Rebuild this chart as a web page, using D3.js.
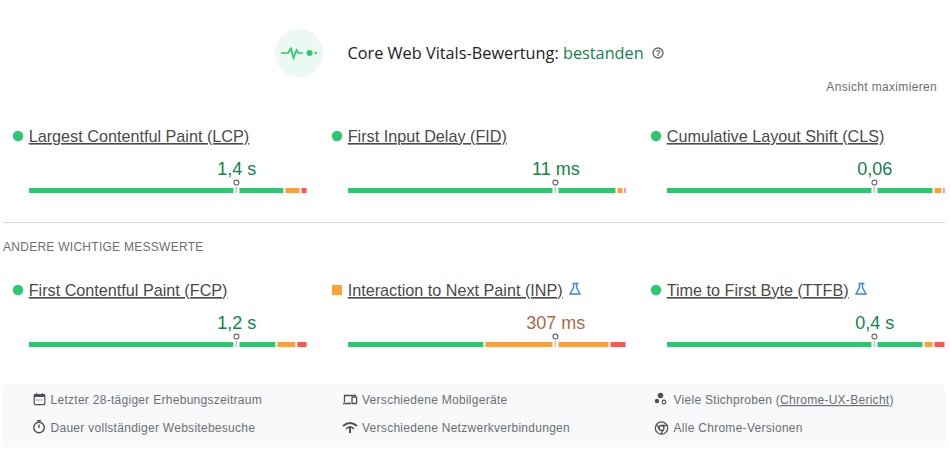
<!DOCTYPE html>
<html><head><meta charset="utf-8">
<script src="https://cdn.jsdelivr.net/npm/d3@7"></script>
<style>html,body{margin:0;padding:0;background:#fff}svg{display:block}text{font-family:"Liberation Sans",Arial,sans-serif}</style>
</head><body><div id="c"></div>
<script>
const metricNames=["Largest Contentful Paint (LCP)","First Input Delay (FID)","Cumulative Layout Shift (CLS)","First Contentful Paint (FCP)","Interaction to Next Paint (INP)","Time to First Byte (TTFB)"];
const valueLabels=["1,4 s","11 ms","0,06","1,2 s","307 ms","0,4 s"];
const goodShare=[92.4,97.1,96.4,89.5,49.5,92.8];
const needsShare=[5.8,2.5,3.2,7.2,45.1,3.6];
const poorShare=[1.8,0.4,0.4,3.3,5.4,3.6];
const markerPercentile=[75,75,75,75,75,75];
const statusKind=["good","good","good","good","needs","good"];
const experimental=[false,false,false,false,true,true];
const footerLeft=["Letzter 28-tägiger Erhebungszeitraum","Dauer vollständiger Websitebesuche"];
const footerMid=["Verschiedene Mobilgeräte","Verschiedene Netzwerkverbindungen"];
const footerRight=["Alle Chrome-Versionen"];

const W=950,H=449;
const svg=d3.select("#c").append("svg").attr("width",W).attr("height",H).attr("viewBox",[0,0,W,H]);
const colors={good:"#2bc96f",needs:"#ffa033",poor:"#ff544f"};
const textColors={good:"#12834a",needs:"#b5653f"};
const colX=[29,348,667], rowY=[136,290], barW=277.5;
const x=d3.scaleLinear().domain([0,100]).range([0,barW]);
const gap=2;

// header
svg.append("circle").attr("cx",299).attr("cy",53).attr("r",24).attr("fill","#ecf9f3");
const pulse=svg.append("g").attr("fill","none").attr("stroke","#2bc96f").attr("stroke-width",1.7);
pulse.append("path").attr("d","M281 53H288L291 48.5L293.5 58L296.5 50L298 53H303");
pulse.append("path").attr("d","M314.5 53H317");
svg.append("circle").attr("cx",309.5).attr("cy",53).attr("r",3).attr("fill","#2bc96f");
const title=svg.append("text").attr("x",347.5).attr("y",58.5).attr("font-size",16.3).attr("font-weight",500).style("font-family","'Open Sans'").attr("fill","#202124");
title.append("tspan").text("Core Web Vitals-Bewertung: ");
title.append("tspan").attr("fill","#12834a").text("bestanden");
const help=svg.append("g").attr("transform","translate(658,53)");
help.append("circle").attr("r",5).attr("fill","none").attr("stroke","#5f6368").attr("stroke-width",1.3);
help.append("text").attr("text-anchor","middle").attr("y",3).attr("font-size",8.5).attr("font-weight",700).attr("fill","#5f6368").text("?");
svg.append("text").attr("x",937).attr("y",91).attr("text-anchor","end").attr("font-size",12).attr("letter-spacing",0.33).attr("fill","#6b6f73").text("Ansicht maximieren");

// divider + section label
svg.append("rect").attr("x",3).attr("y",222).attr("width",942).attr("height",1).attr("fill","#dadce0");
svg.append("text").attr("x",3).attr("y",250.5).attr("font-size",12).attr("letter-spacing",0.27).attr("fill","#6b6f73").text("ANDERE WICHTIGE MESSWERTE");

// metrics
const idx=d3.range(metricNames.length);
const cell=svg.selectAll("g.m").data(idx).join("g").attr("class","m")
  .attr("transform",i=>`translate(${colX[i%3]},${rowY[Math.floor(i/3)]})`);
cell.each(function(i){
  const g=d3.select(this);
  if(statusKind[i]==="good") g.append("circle").attr("cx",-11).attr("cy",0).attr("r",5.2).attr("fill",colors.good);
  else g.append("rect").attr("x",-16).attr("y",-5).attr("width",10).attr("height",10).attr("fill",colors.needs);
  const t=g.append("text").attr("x",-0.3).attr("y",6).attr("font-size",16.2).attr("fill","#4a4a4a").attr("text-decoration","underline").text(metricNames[i]);
  if(experimental[i]){
    const tw=t.node().getComputedTextLength();
    const f=g.append("g").attr("transform",`translate(${tw+11.5},-7)`).attr("fill","none").attr("stroke","#3b82f6").attr("stroke-width",1.4);
    f.append("path").attr("d","M-2 0.5H4 M-1 0.5V4.5L-4.5 11H5.5L2 4.5V0.5");
  }
  const mx=x(markerPercentile[i])-0.7;
  g.append("text").attr("x",mx+0.4).attr("y",38.5).attr("text-anchor","middle").attr("font-size",18).attr("fill",textColors[statusKind[i]]).text(valueLabels[i]);
  const by=52;
  const shares=[["good",goodShare[i]],["needs",needsShare[i]],["poor",poorShare[i]]];
  let c=0;
  shares.forEach(([k,v],j)=>{
    const x0=x(c),x1=x(c+v)-(j<2?gap:0);
    g.append("rect").attr("x",x0).attr("y",by).attr("width",Math.max(0.8,x1-x0)).attr("height",5).attr("fill",colors[k]);
    c+=v;
  });
  g.append("rect").attr("x",mx-3).attr("y",by-1).attr("width",6).attr("height",7).attr("fill","#fff");
  g.append("rect").attr("x",mx-0.8).attr("y",by-1).attr("width",1.6).attr("height",6).attr("fill","#b9c9c2");
  g.append("circle").attr("cx",mx).attr("cy",by-5.4).attr("r",2.5).attr("fill","#fff").attr("stroke","#666").attr("stroke-width",1.1);
});

// footer
svg.append("rect").attr("x",3).attr("y",384).attr("width",942).attr("height",63).attr("rx",3).attr("fill","#f8f9fa");
const fs=12,ls=0.28,fc="#6b6f73";
function ftxt(x,y,s){return svg.append("text").attr("x",x).attr("y",y).attr("font-size",fs).attr("letter-spacing",ls).attr("fill",fc).text(s);}
ftxt(50.5,404,footerLeft[0]); ftxt(50.5,432,footerLeft[1]);
ftxt(362,404,footerMid[0]); ftxt(362,432,footerMid[1]);
const vt=svg.append("text").attr("x",673.5).attr("y",404).attr("font-size",fs).attr("letter-spacing",ls).attr("fill",fc);
vt.append("tspan").text("Viele Stichproben (");
vt.append("tspan").attr("text-decoration","underline").text("Chrome-UX-Bericht");
vt.append("tspan").text(")");
ftxt(673.5,432,footerRight[0]);

// footer icons
const ic="#4d5156";
const cal=svg.append("g");
cal.append("rect").attr("x",34.2).attr("y",394.6).attr("width",10.6).attr("height",10).attr("rx",1).attr("fill","none").attr("stroke",ic).attr("stroke-width",1.2);
cal.append("rect").attr("x",34).attr("y",394).attr("width",11).attr("height",3).attr("fill",ic);
cal.append("path").attr("d","M36.5 393V395M42.5 393V395").attr("stroke",ic);
cal.append("path").attr("d","M36 400H43").attr("stroke",ic).attr("stroke-dasharray","1.2 1.2");
const tm=svg.append("g").attr("fill","none").attr("stroke",ic).attr("stroke-width",1.4);
tm.append("circle").attr("cx",39).attr("cy",427.5).attr("r",5.3);
tm.append("path").attr("d","M37 420.7H41M39 424.5V428");
const dv=svg.append("g").attr("fill","none").attr("stroke",ic).attr("stroke-width",1.3);
dv.append("path").attr("d","M344.5 402V395.5H356");
dv.append("path").attr("d","M343 403.5H351").attr("stroke-width",1.6);
dv.append("rect").attr("x",352).attr("y",397).attr("width",4.6).attr("height",6.5).attr("rx",.5);
const wf=svg.append("g");
wf.append("path").attr("d","M343 426Q350 420 357 426").attr("fill","none").attr("stroke",ic).attr("stroke-width",2);
wf.append("path").attr("d","M346 429Q350 425 354 429").attr("fill","none").attr("stroke",ic).attr("stroke-width",1.6);
wf.append("path").attr("d","M349 426H351V433H349Z").attr("fill",ic);
svg.append("circle").attr("cx",660.5).attr("cy",395.5).attr("r",2.8).attr("fill",ic);
svg.append("circle").attr("cx",657).attr("cy",401).attr("r",2.2).attr("fill",ic);
svg.append("circle").attr("cx",664).attr("cy",402).attr("r",1.8).attr("fill","none").attr("stroke",ic).attr("stroke-width",1.2);
const ch=svg.append("g").attr("fill","none").attr("stroke",ic).attr("stroke-width",1.3);
ch.append("circle").attr("cx",661.5).attr("cy",428).attr("r",6.2);
ch.append("circle").attr("cx",661.5).attr("cy",428).attr("r",2.5);
ch.append("path").attr("d","M661.5 425.5H667.3M659.3 429.2L656.6 424.4M663.7 429.2L660.8 434");
</script></body></html>
